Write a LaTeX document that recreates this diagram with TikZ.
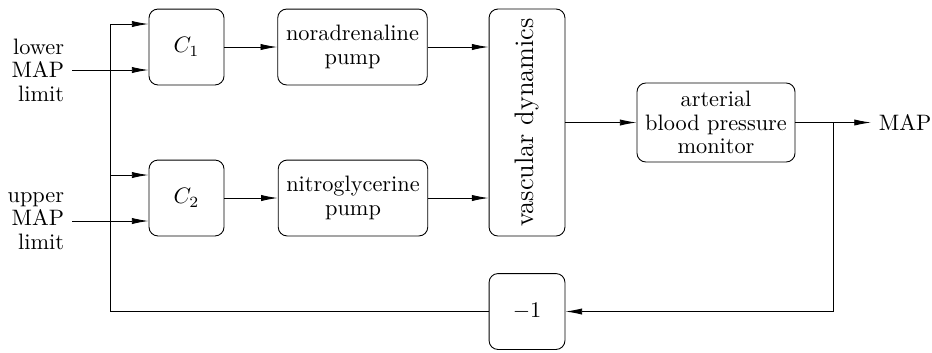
\documentclass[tikz,border=0pt]{standalone}
\usepackage{amsmath}
\usepackage{tikz}
\usetikzlibrary{arrows.meta,calc}
\tikzset{
	blk/.style={draw,rounded corners=4pt,align=center,font={\fontsize{10}{10.5}\selectfont}},
	lbl/.style={align=right,font={\fontsize{10}{10.5}\selectfont}}
}
\begin{document}
\begin{tikzpicture}[x=0.448pt,y=-0.448pt,>={Latex[length=7.5pt,width=2.8pt]}]
		\useasboundingbox (0,0) rectangle (932,352);
		%blocks
		\node[blk,minimum width=33.6pt,minimum height=34pt] (c1) at (186.5,47) {$C_1$};
		\node[blk,minimum width=33.6pt,minimum height=34pt] (c2) at (186.5,198) {$C_2$};
		\node[blk,minimum width=67pt,minimum height=34pt] (pumpn) at (352.5,47) {noradrenaline\\pump};
		\node[blk,minimum width=67pt,minimum height=34pt] (pumpg) at (353,198) {nitroglycerine\\pump};
		\node[blk,minimum width=101.7pt,minimum height=34pt,rotate=90,font=\large] (vasc) at (527,122.5) {vascular dynamics};
		\node[blk,minimum width=70.8pt,minimum height=35.4pt] (abp) at (716,122.5) {arterial\\blood pressure\\monitor};
		\node[blk,minimum width=34pt,minimum height=34pt] (neg) at (527,311.5) {$-1$};
		%inputs and output
		\node[lbl,anchor=east] (inlow) at (72,70) {lower\\MAP\\limit};
		\node[lbl,anchor=east] (inup) at (72,221) {upper\\MAP\\limit};
		\node[anchor=west] (map) at (871,122.5) {MAP};
		\coordinate (br) at (833,122.5);
		\coordinate (fbl) at (110,311.5);
		%forward path
		\draw[->] (inlow.east) -- (c1.west |- inlow.east);
		\draw[->] (inup.east) -- (c2.west |- inup.east);
		\draw[->] (c1) -- (pumpn);
		\draw[->] (c2) -- (pumpg);
		\draw[->] (pumpn.east) -- (vasc.north |- pumpn.east);
		\draw[->] (pumpg.east) -- (vasc.north |- pumpg.east);
		\draw[->] (vasc.south) -- (abp.west);
		\draw[->] (abp.east) -- (map.west);
		%feedback
		\draw[->] (br) |- (neg.east);
		\draw[->] (neg.west) -- (fbl) |- ([yshift=10.3pt]c1.west);
		\draw[->] (fbl) |- ([yshift=10.3pt]c2.west);
	\end{tikzpicture}
\end{document}
